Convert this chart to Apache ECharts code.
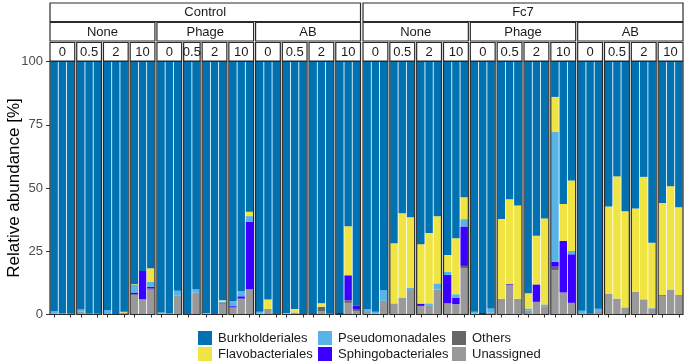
<!DOCTYPE html>
<html><head><meta charset="utf-8">
<script src="https://cdn.jsdelivr.net/npm/echarts@6/dist/echarts.min.js"></script>
<style>html,body{margin:0;padding:0;background:#fff}#c{width:685px;height:364px}</style>
</head><body><div id="c"></div>
<script>
// ---------------- data ----------------
const treatments = ['Control', 'Fc7'];
const phages = ['None', 'Phage', 'AB'];
const times = ['0', '0.5', '2', '10'];
// replicate bars per panel (treatment > phage > time)
const replicates = [3,3,3,3, 3,2,3,3, 3,3,3,3,  3,3,3,3, 3,3,3,3, 3,3,3,3];
const taxa = ['Burkholderiales','Flavobacteriales','Pseudomonadales','Sphingobacteriales','Others','Unassigned'];
const yTicks = [0, 25, 50, 75, 100];

const unassigned = [
  0.5,0.2,0.2, 1.2,0.2,0.2, 0.6,0.2,0.8, 7.7,6.0,9.8,
  0.3,0.2,7.4, 0.2,8.6, 0.3,0.1,4.1, 2.8,6.0,10.0,
  0.3,2.2,0.1, 0.3,0.8,0.1, 0.1,1.2,0.3, 0.2,4.6,1.4,
  1.0,0.5,5.4, 4.4,6.7,9.7, 3.4,3.7,9.9, 4.4,4.1,18.2,
  0.3,0.1,0.7, 6.2,11.6,6.2, 1.5,5.0,3.3, 17.5,8.7,4.6,
  0.5,0.1,1.0, 8.3,6.3,2.8, 9.0,6.0,2.4, 7.3,9.7,7.7
];
const others = [
  0,0,0, 0,0,0, 0,0,0, 0.3,0,0.5,
  0,0,0, 0,0, 0,0,0, 0,0.3,0,
  0,0,0, 0,0,0, 0,1.9,0, 0,1.0,0.5,
  0,0,0, 0,0,0, 0,0,0, 0,0,1.0,
  0,0,0, 0,0,0, 0,0,0, 1.4,0,0,
  0,0,0, 0,0,0, 0,0,0, 0,0,0
];
const sphingobacteriales = [
  0,0,0, 0,0,0, 0,0,0, 0.7,11.2,0.7,
  0,0,0, 0,0, 0,0,0.3, 0.5,0.9,26.7,
  0,0,0, 0,0,0, 0,0,0, 0.4,9.9,1.6,
  0,0,0, 0,0,0, 0.9,0,0, 11.2,2.6,15.6,
  0,0.5,0, 0,0.4,0, 0,6.9,0, 2.0,20.4,19.2,
  0,0.3,0, 0,0,0, 0,0,0, 0.3,0,0
];
const pseudomonadales = [
  0.8,0.2,0.1, 0.8,0.1,0.1, 1.2,0,0, 3.0,0,2.0,
  0.5,0.2,2.0, 0,1.5, 0.3,0,0.6, 2.0,2.0,2.2,
  0.8,0,0, 0.3,0,0, 0,0,0, 0,0,0,
  1.2,0.6,4.2, 0,0,0.9, 0,0.7,2.4, 1.3,1.3,2.9,
  0.8,0,1.7, 0,0,0, 0.9,0,0.7, 51.2,0,1.3,
  1.0,0,1.3, 0,0,0, 0,0,0.3, 0,0,0
];
const flavobacteriales = [
  0,0,0, 0,0,0, 0,0,0.3, 0.3,0,5.3,
  0,0,0, 0,0, 0,0,0.6, 0,0,1.7,
  0,3.7,0, 0,1.4,0, 0,1.3,0, 0,19.4,0,
  0,0,0, 23.8,33.3,27.8, 23.5,27.8,26.5, 6.6,22.1,8.6,
  0,0,0, 31.5,33.6,36.9, 6.0,19.2,33.9, 13.9,14.6,27.9,
  0,0,0, 34.4,48.3,38.0, 32.9,48.4,25.7, 36.5,41.0,34.7
];
const burkholderiales = [
  98.7,99.6,99.7, 98.0,99.7,99.7, 98.2,99.8,98.9, 88.0,82.8,81.7,
  99.2,99.6,90.6, 99.8,89.9, 99.4,99.9,94.4, 94.7,90.8,59.4,
  98.9,94.1,99.9, 99.4,97.8,99.9, 99.9,95.6,99.7, 99.4,65.1,96.5,
  97.8,98.9,90.4, 71.8,60.0,61.6, 72.2,67.8,61.2, 76.5,69.9,53.7,
  98.9,99.4,97.6, 62.3,54.4,56.9, 91.6,68.9,62.1, 14.0,56.3,47.0,
  98.5,99.6,97.7, 57.3,45.4,59.2, 58.1,45.6,71.6, 55.9,49.3,57.6
];

// ---------------- styling / layout ----------------
const colors = {
  Burkholderiales: '#0072B2', Flavobacteriales: '#F0E442', Pseudomonadales: '#56B4E9',
  Sphingobacteriales: '#3A00FF', Others: '#666666', Unassigned: '#999999'
};
const stackOrder = [
  ['Unassigned', unassigned], ['Others', others], ['Sphingobacteriales', sphingobacteriales],
  ['Pseudomonadales', pseudomonadales], ['Flavobacteriales', flavobacteriales], ['Burkholderiales', burkholderiales]
];
const FONT = '"Liberation Sans", Arial, Helvetica, sans-serif';
const plotTop = 61.5, plotBottom = 314.5;
const treatSpan = [[50, 360.5], [363, 683]];
const gap = 2;
const stripH = 18.5;
const stripY = [3, 22.5, 42.5];
const BORDER = '#2b2b2b', BW = 1.2;

const panels = [];
let pi = 0, barIdx = 0;
treatments.forEach((tr, t) => {
  const nPanels = phages.length * times.length;
  const reps = replicates.slice(t * nPanels, (t + 1) * nPanels);
  const nb = reps.reduce((a, b) => a + b, 0);
  const unit = (treatSpan[t][1] - treatSpan[t][0] - (nPanels - 1) * gap) / nb;
  let x = treatSpan[t][0];
  phages.forEach((ph, p) => {
    times.forEach((tm, k) => {
      const n = replicates[pi];
      const w = n * unit;
      panels.push({ t, p, k, x, w, n, start: barIdx });
      x += w + gap;
      barIdx += n; pi++;
    });
  });
});

const grid = [], xAxis = [], yAxis = [], series = [], graphics = [];
panels.forEach((pn, i) => {
  grid.push({ left: pn.x, top: plotTop, width: pn.w, height: plotBottom - plotTop, containLabel: false });
  xAxis.push({
    type: 'category', gridIndex: i, data: Array.from({length: pn.n}, (_, j) => String(j + 1)),
    boundaryGap: true, axisLine: { show: false },
    axisTick: { show: true, alignWithLabel: true, length: 3, lineStyle: { color: '#333', width: 1 } },
    axisLabel: { show: false }, splitLine: { show: false }
  });
  yAxis.push({
    type: 'value', gridIndex: i, min: 0, max: 100, interval: 25,
    axisLine: { show: false }, splitLine: { show: false },
    axisTick: { show: i === 0, length: 4, lineStyle: { color: '#333', width: 1 } },
    axisLabel: { show: i === 0, color: '#4d4d4d', fontSize: 13, fontFamily: FONT, margin: 7,
      formatter: v => (yTicks.indexOf(v) >= 0 ? String(v) : '') }
  });
  stackOrder.forEach(([name, arr]) => {
    series.push({
      type: 'bar', name, stack: 'p' + i, xAxisIndex: i, yAxisIndex: i,
      data: arr.slice(pn.start, pn.start + pn.n),
      barCategoryGap: '10%', itemStyle: { color: colors[name] },
      emphasis: { disabled: true }, silent: true
    });
  });
  // panel border
  graphics.push({ type: 'rect', z: 100, shape: { x: pn.x, y: plotTop, width: pn.w, height: plotBottom - plotTop },
    style: { fill: null, stroke: BORDER, lineWidth: BW } });
  // time strip (text clipped to strip like the original)
  graphics.push({ type: 'rect', z: 100, shape: { x: pn.x, y: stripY[2], width: pn.w, height: stripH },
    style: { fill: '#fff', stroke: BORDER, lineWidth: BW } });
  graphics.push({ type: 'group', z: 101, children: [{
    type: 'text', z: 101, style: { text: times[pn.k], x: pn.x + pn.w / 2, y: stripY[2] + stripH / 2 + 0.5,
      textAlign: 'center', textVerticalAlign: 'middle', fill: '#1a1a1a', font: '13px ' + FONT }
  }], clipPath: undefined });
});
// phage strips and treatment strips
treatments.forEach((tr, t) => {
  const tp = panels.filter(p => p.t === t);
  const tx0 = tp[0].x, tx1 = tp[tp.length - 1].x + tp[tp.length - 1].w;
  graphics.push({ type: 'rect', z: 100, shape: { x: tx0, y: stripY[0], width: tx1 - tx0, height: stripH },
    style: { fill: '#fff', stroke: BORDER, lineWidth: BW } });
  graphics.push({ type: 'text', z: 101, style: { text: tr, x: (tx0 + tx1) / 2, y: stripY[0] + stripH / 2 + 0.5,
    textAlign: 'center', textVerticalAlign: 'middle', fill: '#1a1a1a', font: '13px ' + FONT } });
  phages.forEach((ph, p) => {
    const pp = tp.filter(q => q.p === p);
    const x0 = pp[0].x, x1 = pp[pp.length - 1].x + pp[pp.length - 1].w;
    graphics.push({ type: 'rect', z: 100, shape: { x: x0, y: stripY[1], width: x1 - x0, height: stripH },
      style: { fill: '#fff', stroke: BORDER, lineWidth: BW } });
    graphics.push({ type: 'text', z: 101, style: { text: ph, x: (x0 + x1) / 2, y: stripY[1] + stripH / 2 + 0.5,
      textAlign: 'center', textVerticalAlign: 'middle', fill: '#1a1a1a', font: '13px ' + FONT } });
  });
});
// y axis title
graphics.push({ type: 'text', z: 101, x: 14, y: 188, rotation: Math.PI / 2,
  style: { text: 'Relative abundance [%]', x: 0, y: 0, textAlign: 'center', textVerticalAlign: 'middle',
    fill: '#000', font: '17px ' + FONT } });

const legendBase = {
  orient: 'vertical', top: 331, itemWidth: 14, itemHeight: 14, itemGap: 2, icon: 'rect',
  selectedMode: false, padding: 0,
  textStyle: { fontSize: 13, color: '#1a1a1a', fontFamily: FONT, padding: [0, 0, 0, 1] }
};
const legend = [
  Object.assign({}, legendBase, { left: 198, data: [taxa[0], taxa[1]] }),
  Object.assign({}, legendBase, { left: 318, data: [taxa[2], taxa[3]] }),
  Object.assign({}, legendBase, { left: 452, data: [taxa[4], taxa[5]] })
];

const chart = echarts.init(document.getElementById('c'), null, { renderer: 'canvas' });
chart.setOption({
  animation: false, backgroundColor: '#fff',
  grid, xAxis, yAxis, series, legend, graphic: { elements: graphics }
});
</script></body></html>
